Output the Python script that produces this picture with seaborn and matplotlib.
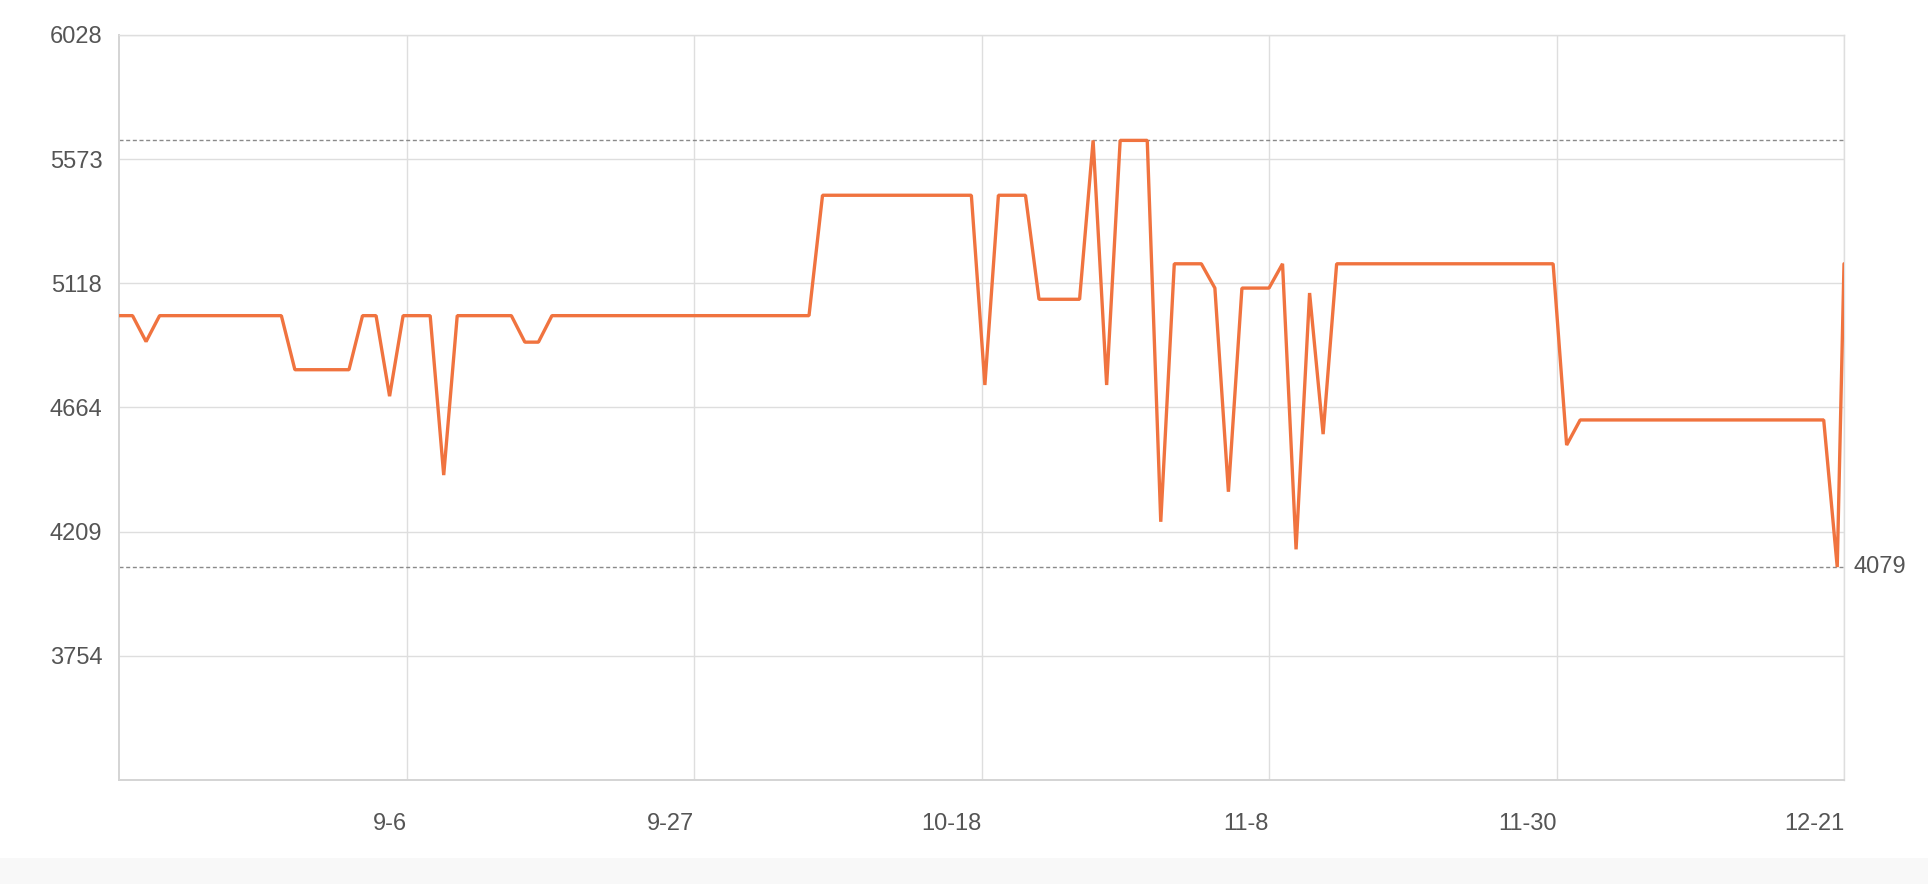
import numpy as np
import pandas as pd
import matplotlib
matplotlib.use('Agg')
import matplotlib.pyplot as plt
import seaborn as sns
from matplotlib.patches import Rectangle

# daily values (index = day offset from the start of the axis); the last one is half a day later
values = ([5000, 5000, 4905] + [5000] * 10 + [4802] * 5 + [5000, 5000, 4705]
          + [5000] * 3 + [4416] + [5000] * 5 + [4903, 4903] + [5000] * 20
          + [5441] * 12 + [4746] + [5441] * 3 + [5060] * 4 + [5642, 4746]
          + [5642] * 3 + [4245] + [5190] * 3 + [5101, 4355] + [5101] * 3
          + [5190, 4144, 5083, 4566] + [5190] * 17 + [4526] + [4618] * 19
          + [4079, 5190])
days = list(range(len(values) - 1)) + [len(values) - 2 + 0.5]

x_tick_labels = ['9-6', '9-27', '10-18', '11-8', '11-30', '12-21']
y_tick_labels = [3754, 4209, 4664, 5118, 5573, 6028]
y_min = 3299.2

df = pd.DataFrame({'day': days, 'value': values})

sns.set_style('white')
plt.rcParams['font.family'] = ['Liberation Sans', 'DejaVu Sans']

fig = plt.figure(figsize=(19.28, 8.84), dpi=100)
ax = fig.add_axes([119 / 1928, 1 - 780 / 884, (1844 - 119) / 1928, (780 - 35) / 884])

# faint grey band at the bottom of the page
fig.add_artist(Rectangle((0, 0), 1, 26 / 884, transform=fig.transFigure,
                         facecolor='#f8f8f8', edgecolor='none', zorder=-5))

x_max = days[-1]
x_ticks = np.linspace(0, x_max, len(x_tick_labels) + 1)[1:]

ax.set_xlim(0, x_max)
ax.set_ylim(y_min, y_tick_labels[-1])
ax.set_xticks(x_ticks)
ax.set_xticklabels(x_tick_labels, ha='right')
ax.set_yticks(y_tick_labels)
ax.set_yticklabels([str(v) for v in y_tick_labels])

grid_col = '#dedede'
ax.grid(True, color=grid_col, linewidth=1.0, zorder=0)
ax.set_axisbelow(True)
for side in ['top', 'right']:
    ax.spines[side].set_color(grid_col)
    ax.spines[side].set_linewidth(1.0)
for side in ['left', 'bottom']:
    ax.spines[side].set_color('#d4d4d4')
    ax.spines[side].set_linewidth(1.4)

ax.tick_params(axis='both', length=0, labelsize=17, labelcolor='#555555')
ax.tick_params(axis='y', pad=12)
ax.tick_params(axis='x', pad=24)

# max / min mark lines
v_max = max(values)
v_min = min(values)
for v in [v_max, v_min]:
    ax.axhline(v, color='#8a8a8a', linewidth=1.0, linestyle=(0, (2.9, 1.9)), zorder=2)
ax.annotate(str(v_min), xy=(1, v_min), xycoords=('axes fraction', 'data'),
            xytext=(7, 0), textcoords='offset points', va='center', ha='left',
            fontsize=17, color='#555555', annotation_clip=False)

sns.lineplot(data=df, x='day', y='value', ax=ax, color='#f0733f', linewidth=2.4,
             sort=False, zorder=3)
for line in ax.lines:
    line.set_solid_joinstyle('bevel')
ax.set_xlabel('')
ax.set_ylabel('')

fig.savefig('out.png', dpi=100, facecolor='white')
